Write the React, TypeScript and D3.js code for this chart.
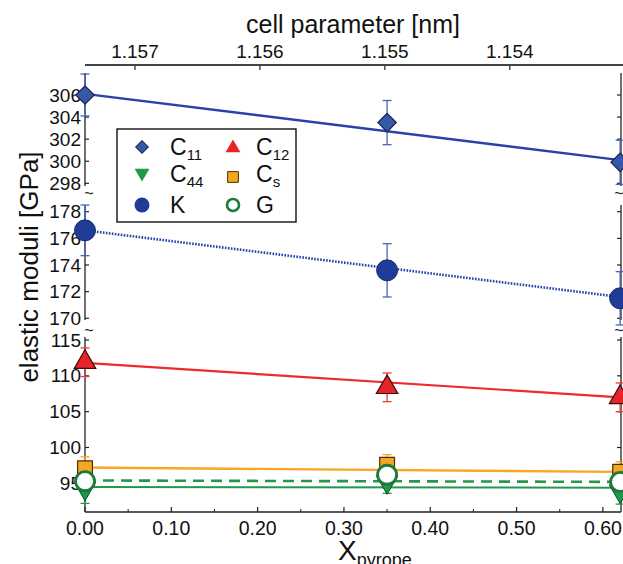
import React from 'react';
import * as d3 from 'd3';

// composition (x) of the three samples
const xPyrope = [0, 0.35, 0.62];

// measured moduli, GPa
const c11 = [306.0, 303.5, 299.9];
const c11Err = [1.9, 2.0, 2.0];
const kMod = [176.6, 173.6, 171.5];
const kErr = [1.9, 2.0, 2.0];
const c12 = [111.9, 108.4, 107.0];
const c12Err = [2.0, 2.0, 2.0];
const cs = [97.1, 97.6, 96.6];
const csErr = [1.6, 1.4, 1.4];
const gMod = [95.3, 96.2, 95.2];
const c44 = [94.3, 95.2, 93.9];
const c44Err = [2.1, 1.6, 1.8];

// linear fits, value at first and last x
const fitX = [0, 0.62];
const c11Fit = [306.1, 300.1];
const kFit = [176.6, 171.6];
const c12Fit = [111.8, 107.0];
const csFit = [97.2, 96.6];
const gFit = [95.4, 95.2];
const c44Fit = [94.5, 94.4];

const bottomTicks = [0, 0.1, 0.2, 0.3, 0.4, 0.5, 0.6];
const bottomMinor = [0.05, 0.15, 0.25, 0.35, 0.45, 0.55];
const topTicks = [1.157, 1.156, 1.155, 1.154];
const ticksTop = [298, 300, 302, 304, 306];
const ticksMid = [170, 172, 174, 176, 178];
const ticksLow = [95, 100, 105, 110, 115];

const font = 'Arial, "Liberation Sans", sans-serif';

export default function App() {
  const W = 623, H = 564;
  const x0 = 85, x1 = 621;
  const x = d3.scaleLinear().domain([0, 0.621]).range([x0, x1]);
  const xTop = d3.scaleLinear().domain([1.1574, 1.15311]).range([x0, x1]);

  // three pieces of the broken y axis
  const yA = d3.scaleLinear().domain([298, 306]).range([183.3, 95]);
  const yB = d3.scaleLinear().domain([170, 178]).range([318.3, 211.7]);
  const yC = d3.scaleLinear().domain([100, 115]).range([447.5, 340]);
  const segs = [
    { y: yA, top: 73, bot: 186, ticks: ticksTop },
    { y: yB, top: 205, bot: 320, ticks: ticksMid },
    { y: yC, top: 337, bot: 512, ticks: ticksLow },
  ];
  const axisY = 512;

  const fitLine = (ys: number[], y: d3.ScaleLinear<number, number>) =>
    d3.line<number>().x((d, i) => x(fitX[i])).y(d => y(d))(ys) || '';

  const errBars = (vals: number[], errs: number[], y: d3.ScaleLinear<number, number>, color: string) =>
    vals.map((v, i) => {
      const cx = x(xPyrope[i]);
      const t = y(v + errs[i]), b = y(v - errs[i]);
      return (
        <g key={i} stroke={color} strokeWidth={1.3}>
          <line x1={cx} x2={cx} y1={t} y2={b} />
          <line x1={cx - 4.5} x2={cx + 4.5} y1={t} y2={t} />
          <line x1={cx - 4.5} x2={cx + 4.5} y1={b} y2={b} />
        </g>
      );
    });

  const sym = (type: d3.SymbolType, size: number) => d3.symbol().type(type).size(size)() || '';
  const diamond = sym(d3.symbolSquare, 170);
  const triangle = sym(d3.symbolTriangle, 200);
  const square = sym(d3.symbolSquare, 220);

  const marks = (vals: number[], y: d3.ScaleLinear<number, number>, render: (cx: number, cy: number, i: number) => React.ReactNode) =>
    vals.map((v, i) => render(x(xPyrope[i]), y(v), i));

  return (
    <svg width={W} height={H} style={{ position: 'absolute', left: 0, top: 0, background: '#fff' }} fontFamily={font}>
      {/* top axis */}
      <text x={353} y={33} fontSize={25} textAnchor="middle" fill="#111">cell parameter [nm]</text>
      <line x1={x0} x2={W} y1={65} y2={65} stroke="#444" strokeWidth={1.8} />
      {topTicks.map(t => (
        <g key={t}>
          <line x1={xTop(t)} x2={xTop(t)} y1={65} y2={70} stroke="#333" strokeWidth={1.3} />
          <text x={xTop(t)} y={58} fontSize={19} textAnchor="middle" fill="#111">{d3.format('.3f')(t)}</text>
        </g>
      ))}

      {/* bottom axis */}
      <line x1={x0} x2={x1} y1={axisY} y2={axisY} stroke="#222" strokeWidth={1.3} />
      {bottomTicks.map(t => (
        <g key={t}>
          <line x1={x(t)} x2={x(t)} y1={axisY} y2={axisY - 5} stroke="#222" strokeWidth={1.2} />
          <text x={x(t)} y={535} fontSize={19.5} textAnchor="middle" fill="#111">{d3.format('.2f')(t)}</text>
        </g>
      ))}
      {bottomMinor.map(t => (
        <line key={t} x1={x(t)} x2={x(t)} y1={axisY} y2={axisY - 3} stroke="#222" strokeWidth={1} />
      ))}
      <text x={338} y={560} fontSize={28} fill="#111">
        X<tspan fontSize={18} dy={6}>pyrope</tspan>
      </text>

      {/* left and right broken axes */}
      {segs.map((s, k) => (
        <g key={k}>
          <line x1={x0} x2={x0} y1={s.top} y2={s.bot} stroke="#222" strokeWidth={1.3} />
          <line x1={x1} x2={x1} y1={s.top} y2={s.bot} stroke="#222" strokeWidth={1.3} />
          {s.ticks.map(t => (
            <g key={t}>
              <line x1={x0} x2={x0 + 4} y1={s.y(t)} y2={s.y(t)} stroke="#222" strokeWidth={1.2} />
              <line x1={x1} x2={x1 - 4} y1={s.y(t)} y2={s.y(t)} stroke="#222" strokeWidth={1.2} />
              <text x={81} y={s.y(t) + 6.5} fontSize={19} textAnchor="end" fill="#111">{t}</text>
            </g>
          ))}
        </g>
      ))}
      {[195, 332].map(yy => (
        <g key={yy} fontSize={16} fill="#222" textAnchor="middle">
          <text x={x0 + 4} y={yy + 4}>~</text>
          <text x={x1 - 2} y={yy + 4}>~</text>
        </g>
      ))}
      <text transform="translate(38,267) rotate(-90)" fontSize={26} textAnchor="middle" fill="#111">elastic moduli [GPa]</text>

      {/* fitted lines */}
      <path d={fitLine(c11Fit, yA)} stroke="#2b40a8" strokeWidth={2.4} fill="none" />
      <path d={fitLine(kFit, yB)} stroke="#2b40a8" strokeWidth={2.6} strokeDasharray="1.6,1.4" fill="none" />
      <path d={fitLine(c12Fit, yC)} stroke="#ee2a2a" strokeWidth={2.2} fill="none" />
      <path d={fitLine(csFit, yC)} stroke="#f9a825" strokeWidth={2.4} fill="none" />
      <path d={fitLine(c44Fit, yC)} stroke="#23984a" strokeWidth={2} fill="none" />
      <path d={fitLine(gFit, yC)} stroke="#23984a" strokeWidth={2.6} strokeDasharray="11,7" fill="none" />

      {/* error bars */}
      {errBars(c11, c11Err, yA, '#4a62c4')}
      {errBars(kMod, kErr, yB, '#4a62c4')}
      {errBars(c12, c12Err, yC, '#ee3b3b')}
      {errBars(cs, csErr, yC, '#f5a623')}
      {errBars(c44, c44Err, yC, '#23984a')}

      {/* markers */}
      {marks(c11, yA, (cx, cy, i) => (
        <path key={i} d={diamond} transform={`translate(${cx},${cy}) rotate(45)`} fill="#3558a8" stroke="#1b2650" strokeWidth={1.2} />
      ))}
      {marks(kMod, yB, (cx, cy, i) => (
        <circle key={i} cx={cx} cy={cy} r={10.5} fill="#1f3c99" stroke="#18286a" strokeWidth={1} />
      ))}
      {marks(c12, yC, (cx, cy, i) => (
        <path key={i} d={triangle} transform={`translate(${cx},${cy})`} fill="#e8232a" stroke="#3a0c0c" strokeWidth={1.2} />
      ))}
      {marks(c44, yC, (cx, cy, i) => (
        <path key={i} d={triangle} transform={`translate(${cx},${cy}) rotate(180)`} fill="#1c9a48" stroke="#0f4a22" strokeWidth={1} />
      ))}
      {marks(cs, yC, (cx, cy, i) => (
        <path key={i} d={square} transform={`translate(${cx},${cy})`} fill="#f5a623" stroke="#4a3000" strokeWidth={1.2} />
      ))}
      {marks(gMod, yC, (cx, cy, i) => (
        <circle key={i} cx={cx} cy={cy} r={9.5} fill="#fff" stroke="#1e7a3a" strokeWidth={2.8} />
      ))}

      {/* legend */}
      <g>
        <rect x={117} y={129} width={179} height={93} fill="#fff" stroke="#111" strokeWidth={1.4} />
        <path d={sym(d3.symbolSquare, 80)} transform="translate(142,147) rotate(45)" fill="#3558a8" stroke="#1b2650" strokeWidth={1} />
        <path d={sym(d3.symbolTriangle, 95)} transform="translate(233,148)" fill="#e8232a" />
        <path d={sym(d3.symbolTriangle, 95)} transform="translate(142,173) rotate(180)" fill="#1c9a48" />
        <path d={sym(d3.symbolSquare, 115)} transform="translate(233,177)" fill="#f5a623" stroke="#4a3000" strokeWidth={1} />
        <circle cx={142} cy={205} r={7.5} fill="#1f3c99" />
        <circle cx={233} cy={205} r={6} fill="#fff" stroke="#1e7a3a" strokeWidth={2.6} />
        <g fontSize={23} fill="#111">
          <text x={170} y={155}>C<tspan fontSize={15} dy={5}>11</tspan></text>
          <text x={256} y={155}>C<tspan fontSize={15} dy={5}>12</tspan></text>
          <text x={170} y={182}>C<tspan fontSize={15} dy={5}>44</tspan></text>
          <text x={256} y={182}>C<tspan fontSize={15} dy={5}>s</tspan></text>
          <text x={170} y={213}>K</text>
          <text x={256} y={213}>G</text>
        </g>
      </g>
    </svg>
  );
}
